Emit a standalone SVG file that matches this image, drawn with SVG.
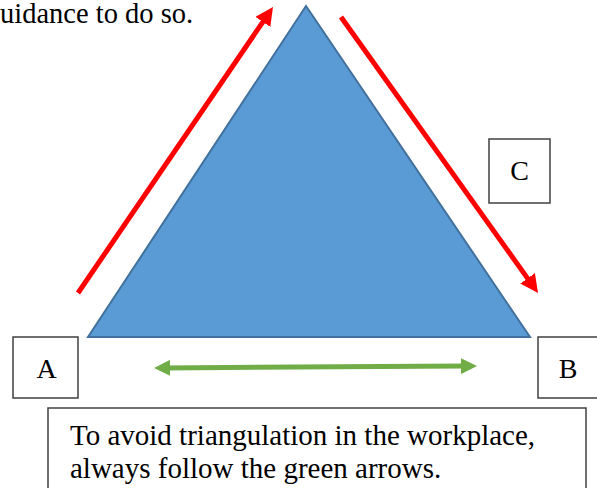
<svg xmlns="http://www.w3.org/2000/svg" width="597" height="488" viewBox="0 0 597 488">
<style>
text{font-family:"Liberation Serif","Times New Roman",serif;fill:#000;font-size:28px}
.box{fill:#fff;stroke:#404040;stroke-width:1.5}
.red{stroke:#FF0000;stroke-width:5;fill:none}
.green{stroke:#70AD47;stroke-width:5;fill:none}
</style>
<defs>
<marker id="redHead" markerUnits="userSpaceOnUse" markerWidth="18" markerHeight="18" viewBox="0 0 18 18" refX="4" refY="9" orient="auto-start-reverse"><path d="M0,0 L18,9 L0,18 z" fill="#FF0000"/></marker>
<marker id="greenHead" markerUnits="userSpaceOnUse" markerWidth="16" markerHeight="16" viewBox="0 0 16 16" refX="4" refY="8" orient="auto-start-reverse"><path d="M0,0 L16,8 L0,16 z" fill="#70AD47"/></marker>
</defs>
<rect width="597" height="488" fill="#fff"/>
<text x="0" y="23" style="font-size:28.5px">uidance to do so.</text>
<g id="triangle"><polygon points="306,6 530,337 88,337" fill="#5B9BD5" stroke="#41719C" stroke-width="2"/></g>
<g id="connectors">
<line class="red" x1="78" y1="293" x2="265.1" y2="18.6" marker-end="url(#redHead)"/>
<line class="red" x1="341" y1="17" x2="529.9" y2="281.6" marker-end="url(#redHead)"/>
<line class="green" x1="166" y1="367.9" x2="465" y2="366.1" marker-start="url(#greenHead)" marker-end="url(#greenHead)"/>
</g>
<g id="nodeA"><rect class="box" x="13" y="337" width="65" height="61"/><text x="46.5" y="378" text-anchor="middle">A</text></g>
<g id="nodeB"><rect class="box" x="538" y="337" width="65" height="61"/><text x="568" y="378" text-anchor="middle">B</text></g>
<g id="nodeC"><rect class="box" x="489" y="139" width="61" height="64"/><text x="519.5" y="180" text-anchor="middle">C</text></g>
<g id="note"><rect class="box" x="48" y="408" width="538" height="90"/>
<text x="70" y="445" style="font-size:29px">To avoid triangulation in the workplace,</text>
<text x="70" y="478" style="font-size:29px">always follow the green arrows.</text></g>
</svg>
